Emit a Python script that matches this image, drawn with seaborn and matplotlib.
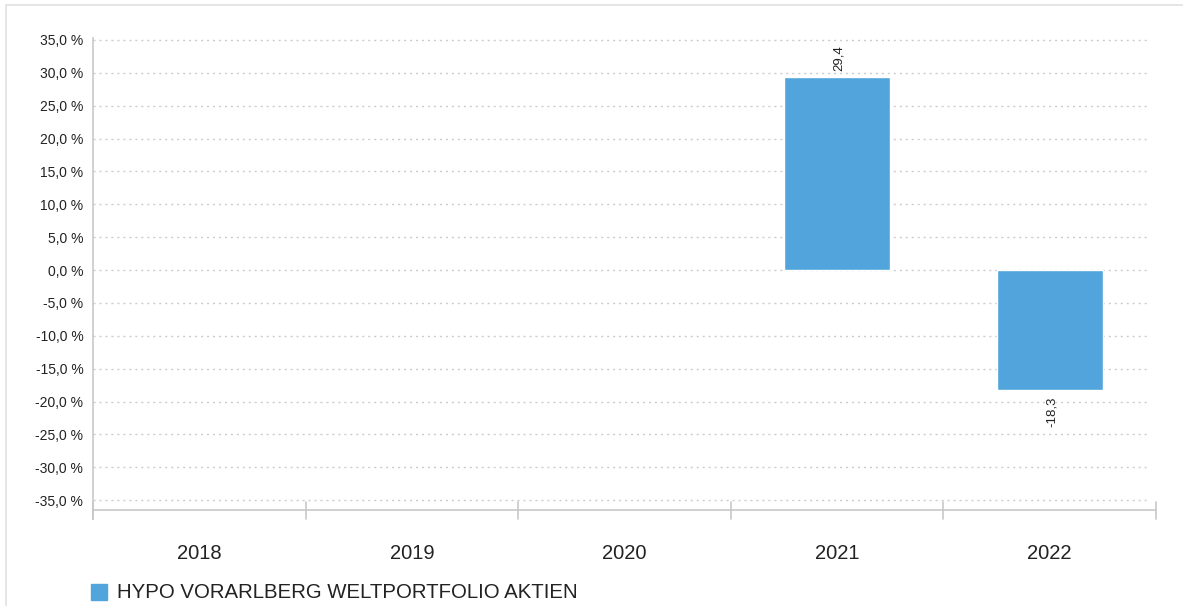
import numpy as np
import pandas as pd
import matplotlib.pyplot as plt
import seaborn as sns
from matplotlib.patches import Rectangle

years = ['2018', '2019', '2020', '2021', '2022']
returns = [np.nan, np.nan, np.nan, 29.4, -18.3]
series_name = 'HYPO VORARLBERG WELTPORTFOLIO AKTIEN'
y_ticks = list(range(-35, 40, 5))

df = pd.DataFrame({'year': years, 'value': returns})

sns.set_style('white')
plt.rcParams['font.family'] = ['Liberation Sans', 'DejaVu Sans']

bar_color = '#52a5dc'
fig = plt.figure(figsize=(11.83, 6.06), dpi=100)
ax = fig.add_axes([93 / 1183, 1 - 510 / 606, (1156 - 93) / 1183, (510 - 38) / 606])

sns.barplot(data=df, x='year', y='value', color=bar_color, width=0.5,
            saturation=1, ax=ax, zorder=3)

ax.set_ylim(-36.5, 35.3)
ax.set_xlim(-0.5, 4.5)
ax.set_yticks(y_ticks)
ax.set_yticklabels([f'{t:.1f} %'.replace('.', ',') for t in y_ticks],
                   fontsize=10, color='#222222')
ax.tick_params(axis='y', length=0, pad=7)

# gridlines
for t in y_ticks:
    ax.plot([-0.5, 4.47], [t, t], linestyle=(0, (1.5, 2.8)), color='#cccccc',
            linewidth=1, zorder=1, clip_on=False)

# x axis: ticks at category boundaries, labels centred
ax.set_xticks(np.arange(-0.5, 5, 1))
ax.set_xticklabels([])
ax.tick_params(axis='x', length=0)
for b in np.arange(-0.5, 5, 1):
    ax.plot([b, b], [-35.3, -37.8], color='#c8c8c8', linewidth=1.2,
            clip_on=False, zorder=2)
for i, y in enumerate(years):
    ax.text(i, -43.1, y, ha='center', va='center', fontsize=14.5, color='#222222')

ax.set_xlabel('')
ax.set_ylabel('')
for s in ['top', 'right']:
    ax.spines[s].set_visible(False)
ax.spines['left'].set_color('#c8c8c8')
ax.spines['left'].set_linewidth(1.2)
ax.spines['left'].set_bounds(-37.8, 35.3)
ax.spines['bottom'].set_color('#c8c8c8')
ax.spines['bottom'].set_linewidth(1.2)

# value labels
for i, v in enumerate(returns):
    if np.isnan(v):
        continue
    lbl = f'{v:.1f}'.replace('.', ',')
    if v >= 0:
        ax.text(i + 0.01, v + 0.9, lbl, rotation=90, ha='center', va='bottom',
                fontsize=9.5, color='#222222')
    else:
        ax.text(i + 0.01, v - 0.9, lbl, rotation=90, ha='center', va='top',
                fontsize=9.5, color='#222222')

# legend
fig.patches.append(Rectangle((91 / 1183, 1 - 600 / 606), 16 / 1183, 16 / 606,
                             transform=fig.transFigure, color=bar_color))
fig.text(117 / 1183, 1 - 593 / 606, series_name, fontsize=14.7, va='center',
         color='#222222')

# frame around the figure
fig.add_artist(plt.Line2D([6 / 1183, 6 / 1183], [0, 1 - 5 / 606], color='#e0e0e0',
                          linewidth=1.2, transform=fig.transFigure))
fig.add_artist(plt.Line2D([6 / 1183, 1], [1 - 5 / 606, 1 - 5 / 606], color='#e0e0e0',
                          linewidth=1.2, transform=fig.transFigure))

fig.savefig('out.png', dpi=100)
